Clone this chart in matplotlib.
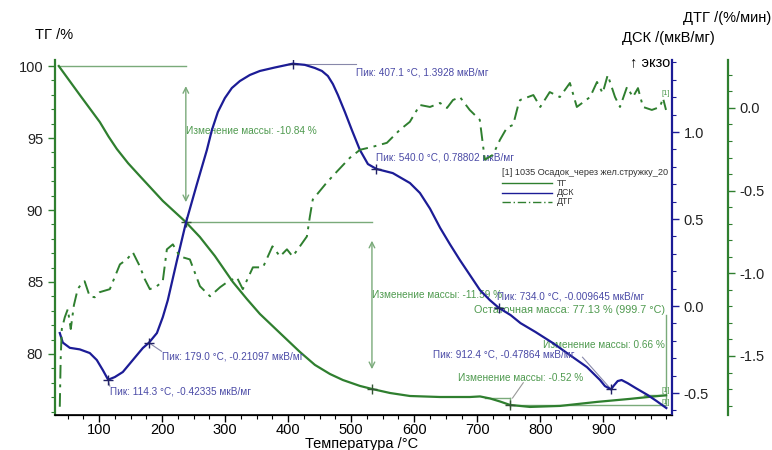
import matplotlib
matplotlib.use("Agg")
import matplotlib.pyplot as plt
import numpy as np

plt.rcParams['font.family'] = ['Liberation Sans', 'DejaVu Sans']

# --- data -------------------------------------------------------------
# ТГ, %
tg_t = [36.0, 69.4, 101.1, 115.0, 128.1, 146.0, 164.6, 201.1, 237.6, 259.8,
        283.6, 312.2, 334.4, 355.1, 386.8, 418.6, 442.4, 466.2, 486.8, 513.8,
        532.9, 561.4, 593.2, 640.8, 688.4, 704.3, 720.2, 736.0, 751.9, 783.6,
        831.3, 890.0, 942.4, 971.0, 999.5]
tg_v = [100.0, 97.99, 96.11, 95.10, 94.24, 93.25, 92.36, 90.63, 89.16, 88.13,
        86.81, 85.0, 83.82, 82.78, 81.46, 80.14, 79.24, 78.61, 78.19, 77.78,
        77.57, 77.29, 77.08, 77.01, 77.01, 77.05, 76.91, 76.70, 76.46, 76.32,
        76.39, 76.67, 76.88, 77.01, 77.13]

# ДСК, мкВ/мг
dsc_t = [37.6, 42.4, 53.5, 69.4, 85.2, 96.3, 105.9, 114.3, 124.9, 137.6, 153.5,
         169.4, 179.0, 191.7, 201.1, 209.0, 223.3, 237.6, 255.1, 271.0,
         278.9, 288.4, 299.5, 310.6, 323.3, 339.2, 355.1, 378.9, 407.1, 426.5,
         442.4, 453.5, 463.0, 470.9, 478.9, 490.0, 501.1, 513.8, 526.5, 540.0,
         566.0, 593.2, 609.0, 625.0, 641.0, 656.7, 672.5, 688.4, 704.3, 720.0,
         734.0, 753.0, 768.6, 792.4, 820.2, 847.1, 874.1, 894.8, 902.7, 912.4,
         916.0, 922.8, 929.0, 938.6, 951.3, 970.3, 984.6, 1000.0]
dsc_v = [-0.155, -0.210, -0.240, -0.249, -0.270, -0.310, -0.368, -0.42335,
         -0.408, -0.379, -0.310, -0.241, -0.21097, -0.155, -0.063, 0.034,
         0.259, 0.477, 0.700, 0.897, 1.011, 1.115, 1.195, 1.253, 1.293, 1.328,
         1.351, 1.371, 1.3928, 1.386, 1.368, 1.351, 1.322, 1.276, 1.213, 1.115,
         1.011, 0.897, 0.816, 0.78802, 0.764, 0.707, 0.650, 0.560, 0.450, 0.355,
         0.264, 0.178, 0.092, 0.034, -0.009645, -0.052, -0.098, -0.149, -0.213,
         -0.282, -0.351, -0.425, -0.460, -0.47864, -0.460, -0.431, -0.425,
         -0.443, -0.471, -0.511, -0.546, -0.586]

# ДТГ, %/мин
dtg_t = [37.6, 39, 40.8, 45.6, 50.3, 55, 60, 66, 72.5, 77, 85, 93, 101, 117,
         133, 144, 153.5, 164.6, 172.5, 180.5, 191.6, 201, 207.5, 217, 228, 244,
         260, 276, 292, 303, 318.5, 328, 344, 360, 375, 387, 398, 407, 418.6,
         429.7, 434.4, 439, 461, 477, 498, 514, 534, 556.6, 577, 593, 609, 625,
         641, 652, 661.5, 672.5, 688, 704, 712, 725, 736, 747, 757, 765, 768,
         789, 800, 815, 831, 847, 858, 879, 890, 899, 907, 918.6, 926.5, 937.6,
         947, 955, 963, 977, 990, 994.7, 999.5]
dtg_v = [-1.807, -1.518, -1.337, -1.265, -1.217, -1.337, -1.193, -1.096,
         -1.06, -1.048, -1.139, -1.145, -1.114, -1.096, -0.946, -0.916, -0.873,
         -0.958, -1.036, -1.096, -1.078, -1.048, -0.855, -0.825, -0.898, -0.916,
         -1.078, -1.139, -1.084, -1.054, -1.024, -1.096, -0.964, -0.964, -0.837,
         -0.898, -0.855, -0.898, -0.837, -0.777, -0.657, -0.554, -0.452, -0.386,
         -0.301, -0.253, -0.235, -0.211, -0.133, -0.084, 0.018, 0.006, 0.030,
         0.0, 0.048, 0.066, -0.012, -0.072, -0.313, -0.283, -0.193, -0.120,
         -0.102, 0.018, 0.048, 0.078, 0.006, 0.096, 0.066, 0.151, 0.006, 0.066,
         0.157, 0.090, 0.199, 0.066, 0.006, 0.127, 0.066, 0.120, 0.006, -0.012,
         0.006, 0.060, -0.012]

# пики ДСК
peak_t = [114.3, 179.0, 407.1, 540.0, 734.0, 912.4]
peak_v = [-0.42335, -0.21097, 1.3928, 0.78802, -0.009645, -0.47864]

# ступени ТГ
step_t = [237.6, 532.9, 751.9]
step_v = [89.16, 77.57, 76.46]
mass_changes = [-10.84, -11.59, -0.52, 0.66]
residual_mass = 77.13
residual_t = 999.7

# --- colours ----------------------------------------------------------
c_tg = '#2f7f2f'
c_dsc = '#1c1c96'
c_txt_g = '#4f9a4f'
c_txt_b = '#4a4aa6'
c_ann = '#7aaa7a'

W, H = 772, 450
fig = plt.figure(figsize=(W / 100, H / 100), dpi=100)
ax = fig.add_axes([55 / W, 35 / H, 617 / W, 355 / H])
ax2 = ax.twinx()
ax3 = ax.twinx()

ax.set_xlim(30, 1009)
ax.set_ylim(75.76, 100.42)
ax2.set_ylim(-0.626, 1.414)
ax3.set_ylim(-1.857, 0.290)

# spines
for a in (ax, ax2, ax3):
    a.spines['top'].set_visible(False)
ax.spines['right'].set_visible(False)
ax2.spines['left'].set_visible(False)
ax3.spines['left'].set_visible(False)
ax.spines['left'].set_color(c_tg)
ax.spines['left'].set_linewidth(1.6)
ax2.spines['right'].set_color(c_dsc)
ax2.spines['right'].set_linewidth(1.6)
ax3.spines['right'].set_position(('axes', 1 + 56 / 617))
ax3.spines['right'].set_color(c_tg)
ax3.spines['right'].set_linewidth(1.6)
ax.spines['bottom'].set_linewidth(1.2)

# ticks
ax.set_xticks([100, 200, 300, 400, 500, 600, 700, 800, 900])
ax.set_xticks(np.arange(50, 1001, 25), minor=True)
ax.set_yticks([80, 85, 90, 95, 100])
ax.set_yticks(np.arange(76, 101, 1), minor=True)
ax2.set_yticks([-0.5, 0.0, 0.5, 1.0])
ax2.set_yticks(np.arange(-0.6, 1.41, 0.1), minor=True)
ax3.set_yticks([-1.5, -1.0, -0.5, 0.0])
ax3.set_yticks(np.arange(-1.8, 0.29, 0.1), minor=True)
ax3.yaxis.set_major_formatter(matplotlib.ticker.FormatStrFormatter('%.1f'))
ax2.yaxis.set_major_formatter(matplotlib.ticker.FormatStrFormatter('%.1f'))

ax.tick_params(axis='both', which='major', length=5, width=1, labelsize=10.5, direction='out')
ax.tick_params(axis='x', which='major', pad=0.5)
ax.tick_params(axis='both', which='minor', length=3, width=0.8, direction='out')
ax.tick_params(axis='y', which='both', colors=c_tg, labelcolor='#222222')
ax2.tick_params(which='major', length=5, width=1, labelsize=10.5, colors=c_dsc, labelcolor='#222222')
ax2.tick_params(which='minor', length=3, width=0.8, colors=c_dsc)
ax3.tick_params(which='major', length=5, width=1, labelsize=10.5, colors=c_tg, labelcolor='#222222')
ax3.tick_params(which='minor', length=3, width=0.8, colors=c_tg)

# curves
ax.plot(tg_t, tg_v, color=c_tg, lw=1.6, zorder=3, solid_joinstyle='round')
ax2.plot(dsc_t, dsc_v, color=c_dsc, lw=1.6, zorder=3, solid_joinstyle='round')
ax3.plot(dtg_t, dtg_v, color=c_tg, lw=1.4, dashes=(7, 3, 1.5, 3), zorder=3)

# ступени ТГ: линии, стрелки, подписи
ax.plot([36, step_t[0]], [100, 100], color=c_ann, lw=1)
ax.plot([step_t[0], step_t[1]], [step_v[0], step_v[0]], color=c_ann, lw=1)
ax.annotate('', xy=(step_t[0], 98.8), xytext=(step_t[0], 90.35),
            arrowprops=dict(arrowstyle='<->', color=c_ann, lw=1))
ax.annotate('', xy=(step_t[1], 88.06), xytext=(step_t[1], 78.75),
            arrowprops=dict(arrowstyle='<->', color=c_ann, lw=1))
ax.plot([712, step_t[2]], [76.94, 76.94], color=c_ann, lw=1)
ax.plot([step_t[2], step_t[2]], [76.94, 76.30], color=c_ann, lw=1)
ax.plot([step_t[2], 1000], [step_v[2], step_v[2]], color=c_ann, lw=1)
ax.plot([965, 1000], [77.15, 77.15], color=c_ann, lw=1)
ax.plot([1000, 1000], [step_v[2], 82.7], color=c_ann, lw=1)
ax.plot([756, 773], [76.94, 78.0], color='#999999', lw=0.8)
ax.plot(step_t, step_v, ls='none', marker='+', ms=7, mew=1, color='#335533', zorder=4)

fs = 7.2
ax.text(step_t[0], 95.49, f'Изменение массы: {mass_changes[0]:.2f} %',
        color=c_txt_g, fontsize=fs, va='center')
ax.text(step_t[1], 84.1, f'Изменение массы: {mass_changes[1]:.2f} %',
        color=c_txt_g, fontsize=fs, va='center')
ax.text(669, 78.33, f'Изменение массы: {mass_changes[2]:.2f} %',
        color=c_txt_g, fontsize=fs, va='center')
ax.text(998, 80.6, f'Изменение массы: {mass_changes[3]:.2f} %',
        color=c_txt_g, fontsize=fs, va='center', ha='right')
ax.text(998, 83.06, f'Остаточная масса: {residual_mass:.2f} % ({residual_t:.1f} °C)',
        color=c_txt_g, fontsize=7.8, va='center', ha='right')
ax.text(993, 77.45, '[1]', color=c_txt_g, fontsize=5.5, va='center')
ax.text(993, 76.6, '[1]', color=c_txt_g, fontsize=5.5, va='center')
ax3.text(993, 0.09, '[1]', color=c_txt_g, fontsize=5.5, va='center')

# пики ДСК
ax2.plot(peak_t, peak_v, ls='none', marker='+', ms=7, mew=1, color='#222266', zorder=4)
ax2.plot([407.1, 508], [1.3928, 1.3928], color='#8888aa', lw=0.8)
ax2.plot([179.0, 199], [-0.21097, -0.26], color='#8888aa', lw=0.8)
ax2.plot([114.3, 117], [-0.42335, -0.46], color='#8888aa', lw=0.8)
ax2.plot([912.4, 867], [-0.47864, -0.294], color='#8888aa', lw=0.8)
peak_pos = [(117, -0.489), (199.6, -0.287), (508, 1.345), (539, 0.856),
            (731, 0.057), (630, -0.276)]
for (px, py), t, v in zip(peak_pos, peak_t, peak_v):
    ax2.text(px, py, f'Пик: {t:.1f} °C, {v:.5g} мкВ/мг',
             color=c_txt_b, fontsize=fs, va='center')

# легенда
ax.text(0.7245, 0.6845, '[1] 1035 Осадок_через жел.стружку_20', transform=ax.transAxes,
        fontsize=6.6, color='#333333', va='center', clip_on=True)
ax.plot([0.7245, 0.8055], [0.6535, 0.6535], transform=ax.transAxes, color=c_tg, lw=1)
ax.plot([0.7245, 0.8055], [0.6254, 0.6254], transform=ax.transAxes, color=c_dsc, lw=1)
ax.plot([0.7245, 0.8055], [0.6, 0.6], transform=ax.transAxes, color=c_tg, lw=1,
        dashes=(6, 2, 1, 2))
for yy, name in zip([0.6535, 0.6254, 0.6], ['ТГ', 'ДСК', 'ДТГ']):
    ax.text(0.813, yy, name, transform=ax.transAxes, fontsize=6.3, color='#333333', va='center')

# подписи осей
fig.text(35 / W, 1 - 35 / H, 'ТГ /%', fontsize=10.5, va='center', ha='left')
fig.text(362 / W, 1 - 444 / H, 'Температура /°C', fontsize=10.5, va='center', ha='center')
fig.text(668 / W, 1 - 38 / H, 'ДСК /(мкВ/мг)', fontsize=10.5, va='center', ha='center')
fig.text(727 / W, 1 - 18 / H, 'ДТГ /(%/мин)', fontsize=10.5, va='center', ha='center')
fig.text(670 / W, 1 - 62 / H, '↑ экзо', fontsize=10.5, va='center', ha='right')

fig.savefig('out.png', dpi=100)
